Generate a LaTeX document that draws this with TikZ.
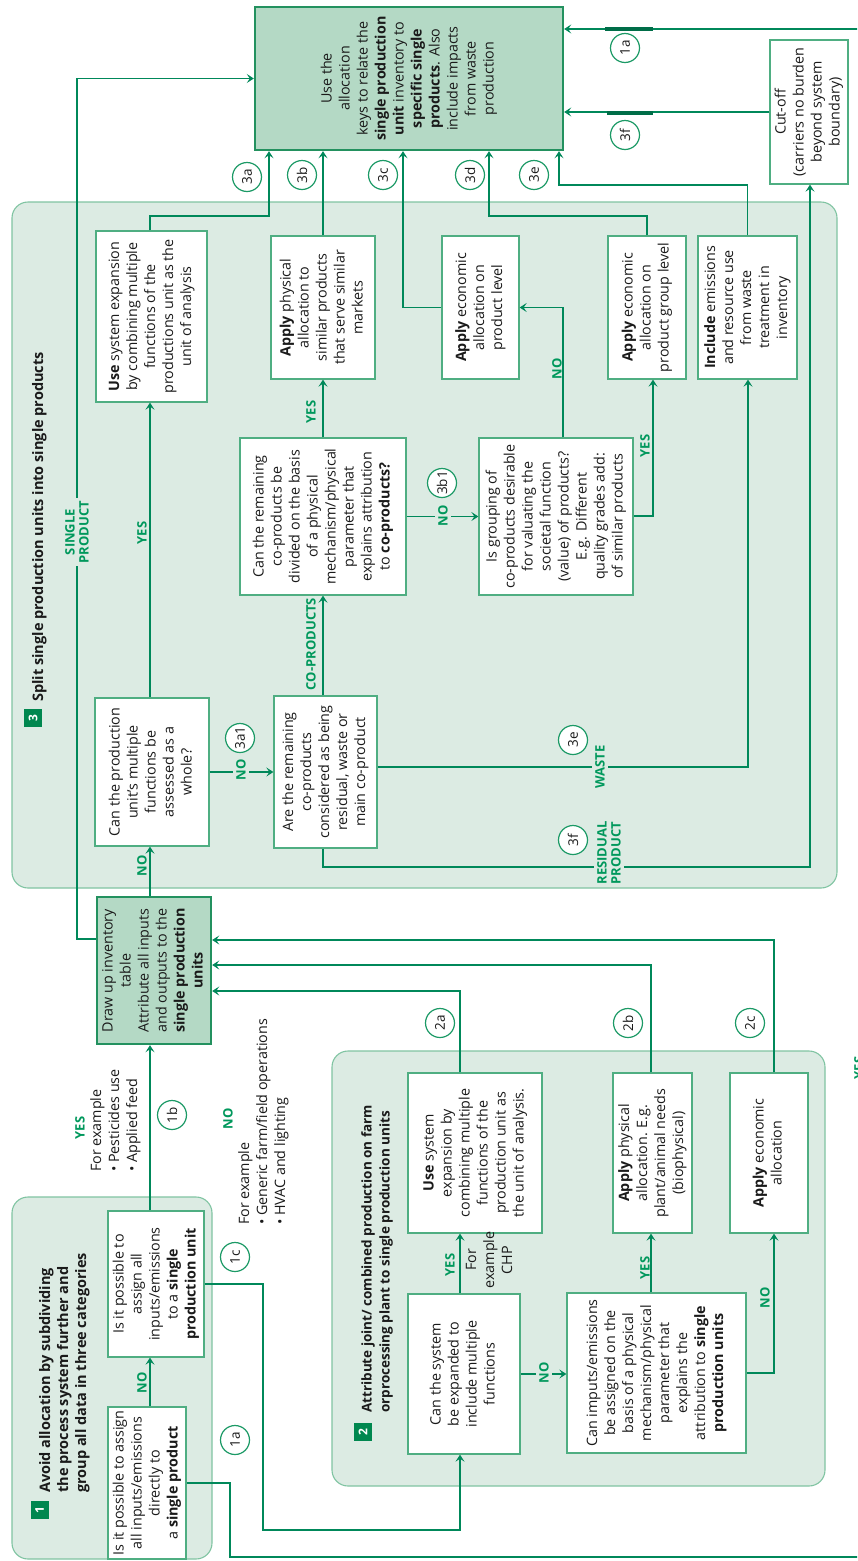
\documentclass[tikz,border=0pt]{standalone}
\usepackage{fontspec}
\setmainfont{Open Sans}
\usetikzlibrary{arrows.meta}

\definecolor{lineg}{HTML}{00885A}
\definecolor{labelg}{HTML}{00985C}
\definecolor{boxedge}{HTML}{4FAE82}
\definecolor{keyedge}{HTML}{23915F}
\definecolor{keyfill}{HTML}{B4D9C5}
\definecolor{panelfill}{HTML}{DCEBE3}
\definecolor{paneledge}{HTML}{80C4A2}
\definecolor{circedge}{HTML}{1C9A66}
\definecolor{sqg}{HTML}{00874F}
\definecolor{txt}{HTML}{1A1A1A}

\newcommand\bodyfont{\fontsize{14.3}{18}\selectfont}
\newcommand\ynfont{\bfseries\fontsize{13}{14}\selectfont}
\newcommand\titlefont{\bfseries\fontsize{14.5}{18}\selectfont}
\newcommand\circfont{\fontsize{13.5}{14}\selectfont}
% text set sideways, reading upwards
\newcommand\vtext[1]{\rotatebox{90}{\begin{tabular}{@{}c@{}}#1\end{tabular}}}

\begin{document}
\begin{tikzpicture}[x=1pt,y=-1pt,
  every node/.style={text=txt},
  box/.style={draw=boxedge,line width=1.3pt,fill=white,inner sep=0pt,font=\bodyfont},
  keybox/.style={draw=keyedge,line width=2.4pt,fill=keyfill,inner sep=0pt,font=\bodyfont},
  panel/.style={draw=paneledge,line width=1.1pt,fill=panelfill,rounded corners=16pt},
  conn/.style={draw=lineg,line width=1.9pt},
  arr/.style={conn,-{Stealth[length=7pt,width=9pt,inset=3pt]}},
  yn/.style={rotate=90,text=labelg,font=\ynfont,inner sep=1.5pt,align=center},
  ynmask/.style={yn,fill=panelfill,inner sep=3pt},
  circ/.style={circle,draw=circedge,line width=1.2pt,fill=white,minimum size=29pt,inner sep=0pt,font=\circfont,rotate=90},
  sq/.style={fill=sqg,text=white,font=\bfseries\fontsize{12}{12}\selectfont,minimum size=18pt,inner sep=0pt,rotate=90},
  ttl/.style={rotate=90,anchor=north west,align=left,inner sep=0pt,font=\titlefont},
  note/.style={rotate=90,anchor=north west,align=left,inner sep=0pt,font=\bodyfont},
  thick seg/.style={draw=lineg!80!black,line width=3.2pt}
]
\useasboundingbox (0,0) rectangle (857,1561);
\clip (0,0) rectangle (857,1561);
\fill[white] (0,0) rectangle (857,1561);

% ---- group panels ----
\path[panel] (12,202) rectangle (837,888);
\path[panel] (12,1197) rectangle (212,1559);
\path[panel] (332,1051) rectangle (825,1486);

% ---- panel titles ----
\node[sq] (n1) at (39.5,1510) {1};
\node[ttl] (t1) at (39,1493) {Avoid allocation by subdividing\\the process system further and\\group all data in three categories};
\node[sq] (n2) at (363,1432) {2};
\node[ttl,font=\bfseries\fontsize{13.5}{18}\selectfont] (t2) at (361,1413) {Attribute joint/ combined production on farm\\orprocessing plant to single production units};
\node[sq] (n3) at (33,718) {3};
\node[ttl] (t3) at (32,702) {Split single production units into single products};

% ---- boxes ----
\node[keybox,minimum width=308pt,minimum height=143pt] (alloc) at (409,78.5)
  {\vtext{Use the\\allocation\\keys to relate the\\\textbf{single production}\\\textbf{unit} inventory to\\\textbf{specific single}\\\textbf{products}. Also\\include impacts\\from waste\\production}};
\node[box,minimum width=78pt,minimum height=144pt] (cutoff) at (809,112)
  {\vtext{Cut-off\\(carriers no burden\\beyond system\\boundary)}};
\node[box,minimum width=111pt,minimum height=171pt] (useA) at (151.5,316.5)
  {\vtext{\textbf{Use} system expansion\\by combining multiple\\functions of the\\productions unit as the\\unit of analysis}};
\node[box,minimum width=104pt,minimum height=143pt] (physA) at (323,307.5)
  {\vtext{\textbf{Apply} physical\\allocation to\\similar products\\that serve similar\\markets}};
\node[box,minimum width=77pt,minimum height=143pt] (econP) at (480.5,307.5)
  {\vtext{\textbf{Apply} economic\\allocation on\\product level}};
\node[box,minimum width=78pt,minimum height=143pt] (econG) at (647,307.5)
  {\vtext{\textbf{Apply} economic\\allocation on\\product group level}};
\node[box,minimum width=99pt,minimum height=143pt] (incl) at (747.5,307.5)
  {\vtext{\textbf{Include} emissions\\and resource use\\from waste\\treatment in\\inventory}};
\node[box,minimum width=166pt,minimum height=157pt] (remain) at (323,516.5)
  {\vtext{Can the remaining\\co-products be\\divided on the basis\\of a physical\\mechanism/physical\\parameter that\\explains attribution\\to \textbf{co-products?}}};
\node[box,minimum width=154pt,minimum height=157pt] (group) at (556,516.5)
  {\vtext{Is grouping of\\co-products desirable\\for valuating the\\societal function\\(value) of products?\\E.g. Different\\quality grades add:\\of similar products}};
\node[box,minimum width=114pt,minimum height=148pt] (whole) at (152,772)
  {\vtext{Can the production\\unit's multiple\\functions be\\assessed as a\\whole?}};
\node[box,minimum width=103pt,minimum height=152pt] (arecp) at (325.5,772)
  {\vtext{Are the remaining\\co-products\\considered as being\\residual, waste or\\main co-product}};
\node[keybox,minimum width=114pt,minimum height=147pt] (inv) at (154,970.5)
  {\vtext{Draw up inventory\\table\\Attribute all inputs\\and outputs to the\\\textbf{single production}\\\textbf{units}}};
\node[box,minimum width=78pt,minimum height=152pt] (q1) at (147,1483)
  {\vtext{Is it possible to assign\\all inputs/emissions\\directly to\\a \textbf{single product}}};
\node[box,minimum width=96pt,minimum height=146pt] (q2) at (156,1284)
  {\vtext{Is it possible to\\assign all\\inputs/emissions\\to a \textbf{single}\\\textbf{production unit}}};
\node[box,minimum width=134pt,minimum height=160pt] (useB) at (475,1153)
  {\vtext{\textbf{Use} system\\expansion by\\combining multiple\\functions of the\\production unit as\\the unit of analysis.}};
\node[box,minimum width=79pt,minimum height=160pt] (physB) at (652.5,1153)
  {\vtext{\textbf{Apply} physical\\allocation. E.g.\\plant/animal needs\\(biophysical)}};
\node[box,minimum width=78pt,minimum height=160pt] (econB) at (769,1153)
  {\vtext{\textbf{Apply} economic\\allocation}};
\node[box,minimum width=112pt,minimum height=160pt] (expand) at (464,1374)
  {\vtext{Can the system\\be expanded to\\include multiple\\functions}};
\node[box,minimum width=179pt,minimum height=160pt] (imput) at (656.5,1373)
  {\vtext{Can imputs/emissions\\be assigned on the\\basis of a physical\\mechanism/physical\\parameter that\\explains the\\attribution to \textbf{single}\\\textbf{production units}}};

% ---- routing points ----
\coordinate (spine) at (150,0);
\coordinate (spine2) at (323,0);
\coordinate (a3) at (269,216);
\coordinate (c3) at (403,307);
\coordinate (d3) at (489,216);
\coordinate (e3) at (559,185);
\coordinate (n3r) at (563,307);
\coordinate (y3) at (653,516);
\coordinate (w1) at (748,767);
\coordinate (r1) at (810,867);
\coordinate (sp1) at (77,939);
\coordinate (a1a) at (230,1557);
\coordinate (a1b) at (870,1557);
\coordinate (a1c) at (870,29);
\coordinate (c1a) at (263,1530);
\coordinate (c1b) at (460,1530);
\coordinate (s2b) at (651,0);
\coordinate (n2r) at (774,1373);
\coordinate (a2) at (460,991);
\coordinate (b2) at (651,965);
\coordinate (c2) at (774,940);
\coordinate (k1) at (605,29);
\coordinate (k2) at (653,29);
\coordinate (k3) at (607,113);
\coordinate (k4) at (653,113);

% ---- connectors: split into single products ----
\draw[arr] (useA.north -| spine) |- (a3) -- (a3 |- alloc.south);
\draw[arr] (physA.north) -- (physA.north |- alloc.south);
\draw[arr] (econP.west) -- (c3 |- econP.west) -- (c3 |- alloc.south);
\draw[arr] (econG.north) |- (d3) -- (d3 |- alloc.south);
\draw[arr] (incl.north) |- (e3) -- (e3 |- alloc.south);
\draw[arr] (cutoff.west) -- (cutoff.west -| alloc.east);
\draw[arr] (whole.north -| spine) -- (useA.south -| spine);
\draw[arr] (whole.east) -- (arecp.west);
\draw[arr] (arecp.north -| spine2) -- (remain.south -| spine2);
\draw[arr] (remain.north -| spine2) -- (physA.south -| spine2);
\draw[arr] (remain.east) -- (remain.east -| group.west);
\draw[arr] (group.north -| n3r) |- (econP.east);
\draw[arr] (group.east |- y3) -- (y3) -- (y3 |- econG.south);
\draw[arr] (w1 -| arecp.east) -- (w1) -- (w1 |- incl.south);
\draw[arr] (arecp.south -| spine2) |- (r1) -- (r1 |- cutoff.south);
\draw[arr] (sp1 -| inv.west) -- (sp1) |- (alloc.west);

% ---- connectors: avoid allocation ----
\draw[arr] (q1.north -| spine) -- (q2.south -| spine);
\draw[arr] (q2.north -| spine) -- (inv.south -| spine);
\draw[arr] (inv.north -| spine) -- (whole.south -| spine);
\draw[arr] (q1.east) -| (a1a) -- (a1b) -- (a1c) -- (a1c -| alloc.east);
\draw[arr] (q2.east) -| (c1a) -- (c1b) -- (c1b |- expand.south);
\draw[thick seg] (k1) -- (k2);
\draw[thick seg] (k3) -- (k4);

% ---- connectors: joint production ----
\draw[arr] (expand.north -| c1b) -- (useB.south -| c1b);
\draw[arr] (expand.east) -- (expand.east -| imput.west);
\draw[arr] (imput.north -| s2b) -- (physB.south -| s2b);
\draw[arr] (imput.east) -- (n2r) -- (n2r |- econB.south);
\draw[arr] (useB.north -| a2) -- (a2) -- (a2 -| inv.east);
\draw[arr] (physB.north -| b2) -- (b2) -- (b2 -| inv.east);
\draw[arr] (econB.north -| c2) -- (c2) -- (c2 -| inv.east);

% ---- branch labels ----
\node[ynmask] (lsp) at (77,532) {SINGLE\\PRODUCT};
\node[ynmask] (lno1) at (241,770) {NO};
\node[ynmask] (lno2) at (443,516) {NO};
\node[ynmask] (lwaste) at (600,767) {WASTE};
\node[ynmask] (lres) at (609,853) {RESIDUAL\\PRODUCT};
\node[ynmask] (lno3) at (544,1373) {NO};
\node[yn] (lyes1) at (142,533) {YES};
\node[yn] (lno4) at (142,866) {NO};
\node[yn] (lcop) at (311,644) {CO-PRODUCTS};
\node[yn] (lyes2) at (311,412) {YES};
\node[yn] (lno5) at (557,369) {NO};
\node[yn] (lyes3) at (645,446) {YES};
\node[yn] (lno6) at (142,1383) {NO};
\node[yn] (lyes4) at (450,1265) {YES};
\node[yn] (lyes5) at (645,1268) {YES};
\node[yn] (lno7) at (765,1298) {NO};
\node[yn] (lyes6) at (80,1128) {YES};
\node[yn] (lno8) at (228,1119) {NO};
\node[yn] (lyes7) at (859,1068) {YES};

% ---- example notes ----
\node[note] (ex1) at (90,1172) {For example\\\textbullet\ Pesticides use\\\textbullet\ Applied feed};
\node[note] (ex2) at (238,1225) {For example\\\textbullet\ Generic farm/field operations\\\textbullet\ HVAC and lighting};
\node[note,anchor=center,align=center] (chp) at (489,1260) {For\\example\\CHP};

% ---- step markers ----
\node[circ] (m3a) at (247,177) {3a};
\node[circ] (m3b) at (302,175) {3b};
\node[circ] (m3c) at (383,175) {3c};
\node[circ] (m3d) at (470,175) {3d};
\node[circ] (m3e) at (534,175) {3e};
\node[circ] (m1at) at (625,48) {1a};
\node[circ] (m3ft) at (625,135) {3f};
\node[circ] (m3b1) at (442,483) {3b1};
\node[circ] (m3a1) at (240,738) {3a1};
\node[circ] (m3em) at (573,740) {3e};
\node[circ] (m3fm) at (573,840) {3f};
\node[circ] (m1b) at (172,1115) {1b};
\node[circ] (m1c) at (235,1257) {1c};
\node[circ] (m1a) at (235,1440) {1a};
\node[circ] (m2a) at (440,1023) {2a};
\node[circ] (m2b) at (628,1023) {2b};
\node[circ] (m2c) at (750,1023) {2c};
\end{tikzpicture}
\end{document}
